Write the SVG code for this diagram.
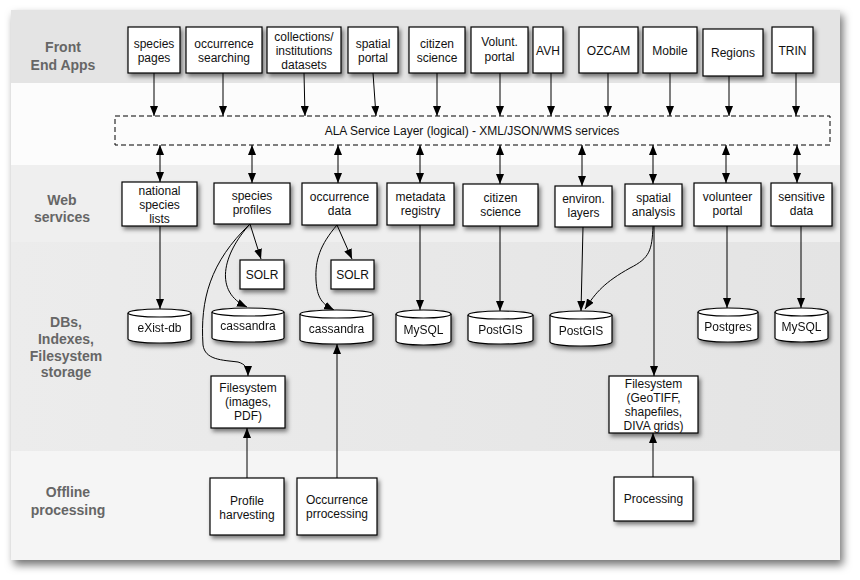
<svg xmlns="http://www.w3.org/2000/svg" width="860" height="580" viewBox="0 0 860 580">
<defs>
<filter id="fshadow" x="-5%" y="-5%" width="112%" height="115%">
<feDropShadow dx="3" dy="5" stdDeviation="4" flood-color="#000" flood-opacity="0.55"/>
</filter>
<filter id="nshadow" x="-20%" y="-20%" width="150%" height="160%">
<feDropShadow dx="2" dy="3" stdDeviation="2" flood-color="#000" flood-opacity="0.5"/>
</filter>
<marker id="arr" markerUnits="userSpaceOnUse" markerWidth="10" markerHeight="8" refX="10" refY="4" orient="auto-start-reverse">
<path d="M0,0 L10,4 L0,8 z" fill="#000"/>
</marker>
<linearGradient id="dbband" x1="0" y1="0" x2="1" y2="0">
<stop offset="0" stop-color="#ececec"/>
<stop offset="1" stop-color="#e4e4e4"/>
</linearGradient>
</defs>
<style>
.box{fill:#fff;stroke:#000;stroke-width:1.2;filter:url(#nshadow)}
.cyl{fill:#fff;stroke:#000;stroke-width:1.2}
.t{font-family:"Liberation Sans",Arial,sans-serif;font-size:12px;fill:#111;text-anchor:middle}
.lab{font-family:"Liberation Sans",Arial,sans-serif;font-size:14px;font-weight:bold;fill:#666;text-anchor:middle}
.c{fill:none;stroke:#000;stroke-width:1}
</style>
<rect width="860" height="580" fill="#fff"/>
<g id="frame">
<rect x="11" y="10" width="829" height="550" fill="#fff" filter="url(#fshadow)"/>
<rect x="11" y="10" width="829" height="73" fill="#e4e4e4"/>
<rect x="11" y="83" width="829" height="82" fill="#fcfcfc"/>
<rect x="11" y="165" width="829" height="77" fill="#efefef"/>
<rect x="11" y="242" width="829" height="209" fill="url(#dbband)"/>
<rect x="11" y="451" width="829" height="109" fill="#f5f5f5"/>
</g>
<g id="labels">
<text class="lab" x="63" y="52">Front</text>
<text class="lab" x="63" y="70">End Apps</text>
<text class="lab" x="62" y="205">Web</text>
<text class="lab" x="62" y="222">services</text>
<text class="lab" x="66" y="327">DBs,</text>
<text class="lab" x="66" y="344">Indexes,</text>
<text class="lab" x="66" y="361">Filesystem</text>
<text class="lab" x="66" y="377">storage</text>
<text class="lab" x="68" y="497">Offline</text>
<text class="lab" x="68" y="515">processing</text>
</g>
<g id="connectors">
<line class="c" x1="154" y1="73" x2="154" y2="116" marker-end="url(#arr)"/>
<line class="c" x1="223" y1="73" x2="223" y2="116" marker-end="url(#arr)"/>
<line class="c" x1="304" y1="73" x2="305" y2="116" marker-end="url(#arr)"/>
<line class="c" x1="373" y1="73" x2="376" y2="116" marker-end="url(#arr)"/>
<line class="c" x1="437" y1="73" x2="437" y2="116" marker-end="url(#arr)"/>
<line class="c" x1="500" y1="73" x2="500" y2="116" marker-end="url(#arr)"/>
<line class="c" x1="551" y1="73" x2="551" y2="116" marker-end="url(#arr)"/>
<line class="c" x1="608" y1="73" x2="608" y2="116" marker-end="url(#arr)"/>
<line class="c" x1="670" y1="73" x2="670" y2="116" marker-end="url(#arr)"/>
<line class="c" x1="729" y1="76" x2="729" y2="116" marker-end="url(#arr)"/>
<line class="c" x1="796" y1="73" x2="796" y2="116" marker-end="url(#arr)"/>
<line class="c" x1="160" y1="145" x2="160" y2="182" marker-start="url(#arr)" marker-end="url(#arr)"/>
<line class="c" x1="252" y1="145" x2="252" y2="183" marker-start="url(#arr)" marker-end="url(#arr)"/>
<line class="c" x1="338" y1="145" x2="338" y2="183" marker-start="url(#arr)" marker-end="url(#arr)"/>
<line class="c" x1="420" y1="145" x2="420" y2="183" marker-start="url(#arr)" marker-end="url(#arr)"/>
<line class="c" x1="500" y1="145" x2="500" y2="184" marker-start="url(#arr)" marker-end="url(#arr)"/>
<line class="c" x1="582" y1="145" x2="582" y2="186" marker-start="url(#arr)" marker-end="url(#arr)"/>
<line class="c" x1="653" y1="145" x2="653" y2="184" marker-start="url(#arr)" marker-end="url(#arr)"/>
<line class="c" x1="726" y1="145" x2="726" y2="183" marker-start="url(#arr)" marker-end="url(#arr)"/>
<line class="c" x1="797" y1="145" x2="797" y2="183" marker-start="url(#arr)" marker-end="url(#arr)"/>
<line class="c" x1="160" y1="226" x2="160" y2="309" marker-end="url(#arr)"/>
<line class="c" x1="250" y1="224" x2="261" y2="259" marker-end="url(#arr)"/>
<path class="c" d="M250,224 C222,255 214,292 247,307" marker-end="url(#arr)"/>
<path class="c" d="M250,224 C210,262 200,300 203,345 C205,360 222,360 238,362 C245,364 248,368 248,376" marker-end="url(#arr)"/>
<line class="c" x1="337" y1="225" x2="352" y2="259" marker-end="url(#arr)"/>
<path class="c" d="M337,225 C320,245 315,260 316,280 C317,298 322,304 334,310" marker-end="url(#arr)"/>
<line class="c" x1="337" y1="478" x2="337" y2="344" marker-end="url(#arr)"/>
<line class="c" x1="420" y1="225" x2="420" y2="310" marker-end="url(#arr)"/>
<line class="c" x1="500" y1="226" x2="500" y2="311" marker-end="url(#arr)"/>
<line class="c" x1="583" y1="227" x2="581" y2="311" marker-end="url(#arr)"/>
<path class="c" d="M653,226 C652,250 650,258 630,268 C605,282 596,292 585,309" marker-end="url(#arr)"/>
<line class="c" x1="654" y1="226" x2="654" y2="376" marker-end="url(#arr)"/>
<line class="c" x1="727" y1="226" x2="727" y2="308" marker-end="url(#arr)"/>
<line class="c" x1="801" y1="226" x2="801" y2="308" marker-end="url(#arr)"/>
<line class="c" x1="247" y1="478" x2="247" y2="428" marker-end="url(#arr)"/>
<line class="c" x1="653" y1="477" x2="653" y2="433" marker-end="url(#arr)"/>
</g>
<g id="service-layer">
<rect x="115" y="116" width="715" height="29" fill="none" stroke="#000" stroke-width="1" stroke-dasharray="5,3"/>
<text class="t" x="472" y="135">ALA Service Layer (logical) - XML/JSON/WMS services</text>
</g>
<g id="species-pages"><rect class="box" x="128" y="27" width="52" height="46"/><text class="t" x="154" y="48">species</text><text class="t" x="154" y="62">pages</text></g>
<g id="occurrence-searching"><rect class="box" x="186" y="27" width="76" height="46"/><text class="t" x="224" y="48">occurrence</text><text class="t" x="224" y="62">searching</text></g>
<g id="collections"><rect class="box" x="267" y="27" width="74" height="46"/><text class="t" x="304" y="41">collections/</text><text class="t" x="304" y="55">institutions</text><text class="t" x="304" y="69">datasets</text></g>
<g id="spatial-portal"><rect class="box" x="348" y="27" width="50" height="46"/><text class="t" x="373" y="48">spatial</text><text class="t" x="373" y="62">portal</text></g>
<g id="citizen-science-app"><rect class="box" x="409" y="27" width="56" height="46"/><text class="t" x="437" y="48">citizen</text><text class="t" x="437" y="62">science</text></g>
<g id="volunt-portal"><rect class="box" x="471" y="27" width="57" height="46"/><text class="t" x="499.5" y="46">Volunt.</text><text class="t" x="499.5" y="61">portal</text></g>
<g id="avh"><rect class="box" x="533" y="27" width="30" height="46"/><text class="t" x="548" y="55">AVH</text></g>
<g id="ozcam"><rect class="box" x="579" y="27" width="59" height="46"/><text class="t" x="608.5" y="55">OZCAM</text></g>
<g id="mobile"><rect class="box" x="643" y="27" width="54" height="46"/><text class="t" x="670" y="55">Mobile</text></g>
<g id="regions"><rect class="box" x="703" y="29" width="60" height="47"/><text class="t" x="733" y="57">Regions</text></g>
<g id="trin"><rect class="box" x="772" y="27" width="41" height="46"/><text class="t" x="792.5" y="55">TRIN</text></g>
<g id="national-species-lists"><rect class="box" x="122" y="182" width="75" height="44"/><text class="t" x="159.5" y="195">national</text><text class="t" x="159.5" y="209">species</text><text class="t" x="159.5" y="223">lists</text></g>
<g id="species-profiles"><rect class="box" x="214" y="183" width="76" height="41"/><text class="t" x="252" y="200">species</text><text class="t" x="252" y="214">profiles</text></g>
<g id="occurrence-data"><rect class="box" x="302" y="183" width="75" height="42"/><text class="t" x="339.5" y="201">occurrence</text><text class="t" x="339.5" y="215">data</text></g>
<g id="metadata-registry"><rect class="box" x="387" y="183" width="67" height="42"/><text class="t" x="420.5" y="201">metadata</text><text class="t" x="420.5" y="215">registry</text></g>
<g id="citizen-science-ws"><rect class="box" x="463" y="184" width="75" height="42"/><text class="t" x="500.5" y="202">citizen</text><text class="t" x="500.5" y="216">science</text></g>
<g id="environ-layers"><rect class="box" x="555" y="186" width="57" height="41"/><text class="t" x="583.5" y="203">environ.</text><text class="t" x="583.5" y="217">layers</text></g>
<g id="spatial-analysis"><rect class="box" x="625" y="184" width="57" height="42"/><text class="t" x="653.5" y="202">spatial</text><text class="t" x="653.5" y="216">analysis</text></g>
<g id="volunteer-portal"><rect class="box" x="694" y="183" width="67" height="43"/><text class="t" x="727.5" y="201">volunteer</text><text class="t" x="727.5" y="215">portal</text></g>
<g id="sensitive-data"><rect class="box" x="771" y="183" width="61" height="43"/><text class="t" x="801.5" y="201">sensitive</text><text class="t" x="801.5" y="215">data</text></g>
<g id="solr-1"><rect class="box" x="240" y="260" width="44" height="29"/><text class="t" x="262" y="279">SOLR</text></g>
<g id="solr-2"><rect class="box" x="331" y="260" width="43" height="29"/><text class="t" x="352.5" y="279">SOLR</text></g>
<g id="exist-db" filter="url(#nshadow)"><path class="cyl" d="M128,313 v26 a31.5,4 0 0 0 63,0 v-26"/><ellipse class="cyl" cx="159.5" cy="313" rx="31.5" ry="4"/><text class="t" x="159.5" y="332">eXist-db</text></g>
<g id="cassandra-1" filter="url(#nshadow)"><path class="cyl" d="M212,312 v26 a36,4 0 0 0 72,0 v-26"/><ellipse class="cyl" cx="248" cy="312" rx="36" ry="4"/><text class="t" x="248" y="330">cassandra</text></g>
<g id="cassandra-2" filter="url(#nshadow)"><path class="cyl" d="M300,314 v26 a36.5,4 0 0 0 73,0 v-26"/><ellipse class="cyl" cx="336.5" cy="314" rx="36.5" ry="4"/><text class="t" x="336.5" y="333">cassandra</text></g>
<g id="mysql-1" filter="url(#nshadow)"><path class="cyl" d="M396,314 v27 a27.5,4 0 0 0 55,0 v-27"/><ellipse class="cyl" cx="423.5" cy="314" rx="27.5" ry="4"/><text class="t" x="423.5" y="334">MySQL</text></g>
<g id="postgis-1" filter="url(#nshadow)"><path class="cyl" d="M468,315 v25 a32.5,4 0 0 0 65,0 v-25"/><ellipse class="cyl" cx="500.5" cy="315" rx="32.5" ry="4"/><text class="t" x="500.5" y="334">PostGIS</text></g>
<g id="postgis-2" filter="url(#nshadow)"><path class="cyl" d="M550,315 v27 a31,4 0 0 0 62,0 v-27"/><ellipse class="cyl" cx="581" cy="315" rx="31" ry="4"/><text class="t" x="581" y="335">PostGIS</text></g>
<g id="postgres" filter="url(#nshadow)"><path class="cyl" d="M698,312 v26 a30,4 0 0 0 60,0 v-26"/><ellipse class="cyl" cx="728" cy="312" rx="30" ry="4"/><text class="t" x="728" y="331">Postgres</text></g>
<g id="mysql-2" filter="url(#nshadow)"><path class="cyl" d="M775,312 v26 a26.5,4 0 0 0 53,0 v-26"/><ellipse class="cyl" cx="801.5" cy="312" rx="26.5" ry="4"/><text class="t" x="801.5" y="331">MySQL</text></g>
<g id="filesystem-images"><rect class="box" x="211" y="376" width="74" height="52"/><text class="t" x="248" y="392">Filesystem</text><text class="t" x="248" y="406">(images,</text><text class="t" x="248" y="420">PDF)</text></g>
<g id="filesystem-geotiff"><rect class="box" x="609" y="376" width="89" height="57"/><text class="t" x="653.5" y="388">Filesystem</text><text class="t" x="653.5" y="402">(GeoTIFF,</text><text class="t" x="653.5" y="416">shapefiles,</text><text class="t" x="653.5" y="430">DIVA grids)</text></g>
<g id="profile-harvesting"><rect class="box" x="210" y="478" width="74" height="57"/><text class="t" x="247" y="505">Profile</text><text class="t" x="247" y="519">harvesting</text></g>
<g id="occurrence-processing"><rect class="box" x="297" y="478" width="80" height="57"/><text class="t" x="337" y="504">Occurrence</text><text class="t" x="337" y="518">prrocessing</text></g>
<g id="processing"><rect class="box" x="614" y="477" width="79" height="44"/><text class="t" x="653.5" y="503">Processing</text></g>
</svg>
